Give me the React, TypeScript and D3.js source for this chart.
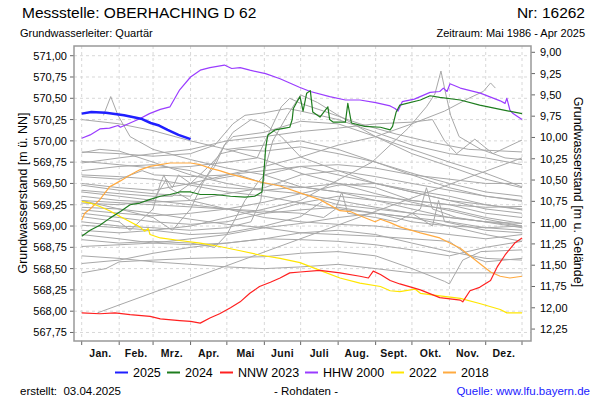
import React from 'react';
import * as d3 from 'd3';

type Pt = [number, number];

// day of year (0 = 1 Jan) / Grundwasserstand [m ü. NN]
const monthStarts = [0, 31, 59, 90, 120, 151, 181, 212, 243, 273, 304, 334, 364];
const monthLabels = ['Jan.', 'Feb.', 'Mrz.', 'Apr.', 'Mai', 'Juni', 'Juli', 'Aug.', 'Sept.', 'Okt.', 'Nov.', 'Dez.'];
const levelTicks = [567.75, 568, 568.25, 568.5, 568.75, 569, 569.25, 569.5, 569.75, 570, 570.25, 570.5, 570.75, 571];
const depthTicks = [9, 9.25, 9.5, 9.75, 10, 10.25, 10.5, 10.75, 11, 11.25, 11.5, 11.75, 12, 12.25];
const groundLevel = 580.04;

const y2025: Pt[] = [[0, 570.32], [8, 570.34], [20, 570.33], [35, 570.3], [49, 570.26], [57, 570.21], [64, 570.18], [71, 570.13], [80, 570.07], [90, 570.02]];

const y2024: Pt[] = [[0, 568.88], [7, 568.95], [15, 569.01], [23, 569.09], [32, 569.17], [40, 569.25], [48, 569.27], [56, 569.31], [65, 569.35], [73, 569.37], [81, 569.4], [90, 569.4], [98, 569.37], [110, 569.37], [123, 569.35], [135, 569.34], [143, 569.35], [149, 569.4], [151, 569.7], [152, 569.9], [153, 570.0], [154, 570.07], [160, 570.13], [168, 570.15], [172, 570.16], [174, 570.25], [175, 570.38], [178, 570.46], [180.5, 570.52], [183, 570.35], [186, 570.56], [189, 570.59], [191, 570.34], [197, 570.28], [203.5, 570.4], [205, 570.25], [208, 570.22], [218, 570.22], [220, 570.44], [223, 570.21], [234, 570.17], [247, 570.16], [255, 570.13], [257, 570.17], [260, 570.34], [263, 570.42], [280, 570.48], [288, 570.53], [296, 570.51], [313, 570.48], [329, 570.42], [346, 570.37], [364, 570.32]];

const nnw2023: Pt[] = [[0, 567.98], [15, 567.97], [27.5, 567.98], [40, 567.96], [56.5, 567.94], [65, 567.91], [81, 567.89], [90, 567.88], [98, 567.86], [106, 567.92], [114, 567.97], [123, 568.04], [131, 568.11], [139, 568.21], [147, 568.29], [156, 568.34], [164, 568.39], [172, 568.45], [180.5, 568.46], [197, 568.48], [213.5, 568.45], [230, 568.41], [237, 568.39], [241, 568.47], [247, 568.43], [255, 568.36], [263, 568.32], [280, 568.25], [296, 568.16], [313, 568.13], [315, 568.11], [321, 568.24], [329, 568.28], [338, 568.36], [343.5, 568.52], [350, 568.66], [358, 568.8], [364, 568.86]];

const hhw2000: Pt[] = [[0, 570.03], [7, 570.07], [15, 570.14], [23, 570.15], [30, 570.18], [32, 570.16], [40, 570.21], [48, 570.26], [56, 570.32], [65, 570.37], [73, 570.4], [77, 570.5], [81, 570.6], [90, 570.75], [98, 570.83], [106, 570.86], [118, 570.89], [124, 570.85], [131, 570.86], [139, 570.83], [152, 570.79], [164, 570.73], [172, 570.68], [180, 570.63], [189, 570.58], [205, 570.52], [218, 570.48], [230, 570.48], [243, 570.45], [255, 570.41], [259, 570.38], [261.5, 570.35], [265, 570.46], [275, 570.49], [288, 570.57], [296, 570.58], [299, 570.62], [302, 570.58], [304.5, 570.67], [313, 570.62], [329.5, 570.56], [346, 570.47], [350, 570.44], [351.5, 570.5], [354, 570.36], [356.6, 570.32], [364, 570.25]];

const y2022: Pt[] = [[0, 569.29], [7, 569.27], [15, 569.23], [23, 569.18], [32, 569.11], [40, 569.05], [48, 568.99], [52, 568.94], [55, 568.97], [56.5, 568.9], [65, 568.86], [81, 568.83], [98, 568.8], [114, 568.76], [131, 568.71], [147, 568.66], [164, 568.62], [180.5, 568.57], [197, 568.48], [213.5, 568.39], [230, 568.33], [247, 568.29], [255, 568.24], [263, 568.23], [275.5, 568.26], [280, 568.21], [296, 568.18], [313, 568.15], [329, 568.09], [346, 568.02], [351.5, 567.98], [364, 567.98]];

const y2018: Pt[] = [[0, 569.07], [2.5, 569.15], [7, 569.2], [15, 569.31], [23, 569.46], [32, 569.53], [40, 569.6], [48, 569.66], [56.5, 569.7], [65, 569.72], [73, 569.74], [81, 569.74], [90, 569.74], [98, 569.72], [106, 569.68], [114, 569.65], [123, 569.61], [131, 569.58], [147, 569.52], [164, 569.47], [180.5, 569.39], [197, 569.31], [213.5, 569.18], [222, 569.17], [230, 569.12], [242.5, 569.05], [247, 569.08], [255, 569.04], [263, 568.99], [280, 568.92], [296, 568.86], [313, 568.74], [329, 568.56], [338, 568.46], [346, 568.41], [354, 568.39], [364, 568.41]];

// all other years 1986 - 2025
const historic: Pt[][] = [
  [[0, 570.25], [31, 570.2], [59, 570.12], [90, 570.0], [120, 569.9], [151, 569.78], [181, 569.62], [212, 569.5], [243, 569.38], [273, 569.28], [304, 569.18], [334, 569.08], [364, 569.0]],
  [[18, 570.3], [24, 570.52], [30, 570.3], [40, 570.05], [59, 569.9], [90, 569.78], [120, 569.68], [151, 569.6], [181, 569.46], [212, 569.4], [243, 569.3], [273, 569.25], [304, 569.2], [334, 569.1], [364, 569.03]],
  [[0, 569.87], [31, 569.85], [59, 569.82], [90, 569.85], [110, 569.95], [125, 570.2], [135, 570.3], [151, 570.33], [170, 570.38], [181, 570.35], [212, 570.25], [243, 570.1], [273, 569.95], [304, 569.85], [334, 569.8], [364, 569.72]],
  [[0, 569.76], [31, 569.72], [59, 569.68], [90, 569.7], [120, 569.75], [145, 569.8], [155, 570.1], [165, 570.4], [172, 570.5], [181, 570.44], [200, 570.35], [230, 570.2], [260, 570.08], [290, 569.98], [320, 569.9], [364, 569.87]],
  [[0, 568.95], [31, 568.92], [59, 568.95], [90, 569.0], [120, 569.1], [151, 569.2], [181, 569.3], [200, 569.45], [220, 569.6], [240, 569.75], [255, 569.95], [270, 570.15], [285, 570.4], [292, 570.55], [297, 570.82], [301, 570.55], [305, 570.3], [312, 570.05], [330, 569.9], [350, 569.8], [364, 569.78]],
  [[0, 569.5], [31, 569.45], [59, 569.42], [90, 569.5], [120, 569.6], [151, 569.7], [181, 569.81], [212, 569.95], [243, 570.05], [273, 570.2], [300, 570.35], [320, 570.5], [332, 570.58], [338, 570.68], [342, 570.62]],
  [[0, 569.74], [31, 569.8], [59, 569.85], [90, 569.9], [120, 570.0], [151, 570.05], [181, 570.11], [212, 570.15], [243, 570.2], [273, 570.22], [290, 570.25], [300, 570.0], [310, 569.85], [325, 570.02], [340, 569.85], [364, 570.01]],
  [[0, 569.58], [31, 569.55], [50, 569.65], [60, 569.6], [90, 569.58], [120, 569.6], [151, 569.65], [181, 569.7], [212, 569.72], [243, 569.68], [273, 569.6], [304, 569.55], [334, 569.5], [364, 569.5]],
  [[0, 569.48], [31, 569.42], [59, 569.38], [90, 569.35], [110, 569.7], [118, 569.95], [125, 570.05], [151, 570.1], [181, 570.23], [212, 570.2], [243, 570.05], [273, 569.9], [304, 569.75], [334, 569.62], [364, 569.46]],
  [[0, 569.42], [31, 569.38], [59, 569.35], [75, 569.35], [90, 569.5], [105, 569.7], [115, 569.85], [130, 569.9], [151, 569.88], [181, 569.93], [212, 569.85], [243, 569.75], [273, 569.62], [304, 569.5], [334, 569.4], [364, 569.35]],
  [[0, 569.35], [31, 569.3], [59, 569.28], [90, 569.3], [120, 569.38], [151, 569.45], [181, 569.6], [212, 569.65], [243, 569.58], [273, 569.5], [304, 569.42], [334, 569.35], [364, 569.29]],
  [[0, 569.27], [31, 569.25], [59, 569.3], [70, 569.55], [75, 569.45], [80, 569.6], [90, 569.5], [120, 569.45], [151, 569.42], [181, 569.46], [212, 569.4], [243, 569.35], [273, 569.3], [304, 569.25], [334, 569.22], [364, 569.23]],
  [[0, 569.19], [31, 569.15], [59, 569.12], [90, 569.15], [120, 569.2], [151, 569.28], [181, 569.38], [212, 569.48], [243, 569.5], [273, 569.42], [304, 569.35], [334, 569.25], [364, 569.19]],
  [[0, 569.15], [31, 569.1], [59, 569.05], [90, 569.02], [120, 569.05], [151, 569.15], [181, 569.27], [212, 569.35], [243, 569.3], [273, 569.2], [304, 569.1], [334, 569.05], [364, 569.03]],
  [[0, 569.11], [31, 569.05], [40, 568.95], [59, 569.2], [65, 569.5], [68, 569.6], [72, 569.45], [90, 569.3], [120, 569.2], [151, 569.15], [181, 569.19], [212, 569.22], [243, 569.15], [273, 569.05], [304, 569.0], [334, 568.98], [364, 569.0]],
  [[0, 569.01], [31, 568.98], [59, 568.95], [90, 568.9], [120, 568.92], [151, 569.0], [181, 569.11], [200, 569.3], [212, 569.25], [243, 569.2], [273, 569.15], [290, 569.0], [295, 569.3], [300, 569.05], [334, 568.95], [364, 568.92]],
  [[0, 568.84], [31, 568.8], [59, 568.82], [90, 568.8], [110, 568.75], [120, 568.9], [135, 569.3], [145, 569.5], [151, 569.6], [165, 569.65], [181, 569.7], [212, 569.6], [243, 569.5], [273, 569.4], [304, 569.3], [334, 569.2], [364, 569.15]],
  [[0, 568.76], [31, 568.78], [59, 568.8], [90, 568.85], [120, 568.9], [151, 568.98], [181, 569.03], [212, 569.1], [243, 569.15], [273, 569.1], [304, 569.0], [334, 568.9], [364, 568.82]],
  [[0, 568.56], [31, 568.6], [59, 568.68], [90, 568.75], [120, 568.8], [151, 568.85], [181, 568.92], [212, 568.95], [243, 568.9], [273, 568.8], [304, 568.7], [334, 568.62], [364, 568.6]],
  [[0, 568.45], [20, 568.5], [31, 568.58], [59, 568.6], [90, 568.62], [120, 568.63], [151, 568.64], [181, 568.68], [212, 568.7], [243, 568.65], [273, 568.5], [300, 568.35], [304, 568.32], [315, 568.6], [330, 568.7], [364, 568.72]],
  [[0, 568.65], [31, 568.62], [59, 568.58], [90, 568.55], [120, 568.52], [151, 568.5], [181, 568.52], [212, 568.55], [243, 568.5], [273, 568.45], [304, 568.45], [334, 568.45], [364, 568.45]],
  [[13, 567.98], [364, 569.8]],
  [[0, 569.3], [31, 569.2], [59, 569.1], [75, 568.95], [90, 569.2], [100, 569.5], [110, 569.75], [118, 569.95], [125, 570.1], [140, 570.25], [151, 570.2], [165, 570.05], [181, 569.81], [212, 569.65], [243, 569.5], [273, 569.4], [304, 569.3], [334, 569.25], [364, 569.2]],
  [[0, 569.05], [31, 569.0], [59, 568.98], [90, 568.95], [120, 568.98], [140, 569.05], [148, 569.3], [152, 569.7], [158, 570.0], [170, 570.3], [181, 570.54], [195, 570.45], [212, 570.3], [243, 570.05], [273, 569.85], [304, 569.7], [334, 569.55], [364, 569.45]],
  [[0, 569.86], [15, 569.9], [31, 569.88], [59, 569.75], [90, 569.6], [120, 569.5], [151, 569.42], [181, 569.38], [212, 569.3], [243, 569.22], [273, 569.15], [304, 569.1], [334, 569.05], [364, 569.0]],
  [[0, 569.6], [31, 569.58], [59, 569.55], [90, 569.48], [120, 569.4], [151, 569.35], [181, 569.27], [212, 569.2], [243, 569.15], [273, 569.1], [304, 569.05], [334, 568.98], [364, 568.95]],
  [[0, 568.9], [31, 568.85], [59, 568.8], [90, 568.78], [120, 568.8], [151, 568.85], [181, 568.84], [212, 568.82], [243, 568.78], [273, 568.72], [304, 568.65], [334, 568.75], [364, 568.82]],
  [[0, 569.22], [31, 569.2], [59, 569.15], [90, 569.08], [120, 569.02], [151, 568.98], [181, 568.92], [212, 568.9], [243, 568.88], [273, 568.85], [304, 568.82], [320, 568.65], [334, 568.58], [364, 568.62]],
  [[0, 569.3], [59, 569.25], [120, 569.2], [181, 569.15], [200, 569.1], [210, 569.2], [215, 569.4], [220, 569.15], [243, 569.1], [260, 569.05], [280, 569.2], [285, 569.45], [290, 569.2], [310, 569.1], [364, 568.98]],
  [[0, 569.65], [31, 569.7], [59, 569.72], [90, 569.65], [110, 569.55], [130, 569.6], [151, 569.5], [181, 569.45], [212, 569.5], [243, 569.45], [273, 569.3], [304, 569.25], [334, 569.15], [364, 569.1]],
  [[120, 569.9], [151, 569.95], [181, 570.0], [212, 569.9], [243, 569.75], [273, 569.6], [304, 569.45], [334, 569.35], [364, 569.3]],
  [[0, 569.4], [31, 569.35], [59, 569.3], [90, 569.25], [120, 569.2], [151, 569.1], [181, 569.05], [212, 569.02], [243, 569.0], [273, 568.95], [304, 568.9], [334, 568.85], [364, 568.9]],
];

const series = [
  { name: '2025', color: '#1f1fff', width: 2.5, data: y2025 },
  { name: '2024', color: '#1e7d1e', width: 1.2, data: y2024 },
  { name: 'NNW 2023', color: '#ff2020', width: 1.2, data: nnw2023 },
  { name: 'HHW 2000', color: '#9a3cff', width: 1.2, data: hhw2000 },
  { name: '2022', color: '#ffe600', width: 1.2, data: y2022 },
  { name: '2018', color: '#ffaa40', width: 1.2, data: y2018 },
];
const legendX = [115, 167, 220, 305, 391, 443];

const font = '"Liberation Sans", Arial, sans-serif';

export default function App() {
  const left = 74, right = 531, top = 46, bottom = 341;
  const x = d3.scaleLinear().domain([0, 364]).range([81.7, 522]);
  const y = d3.scaleLinear().domain([567.65, 571.114]).range([bottom, top]);
  const line = d3.line<Pt>().x(d => x(d[0])).y(d => y(d[1]));
  const fmt = d3.formatLocale({ decimal: ',', thousands: '.', grouping: [3], currency: ['', ''] }).format('.2f');
  const drawOrder = [...series].reverse();

  return (
    <div style={{ position: 'fixed', left: 0, top: 0 }}>
      <svg width={600} height={400} style={{ display: 'block', background: '#fff', fontFamily: font }}>
        <defs>
          <clipPath id="plot"><rect x={left} y={top} width={right - left} height={bottom - top} /></clipPath>
        </defs>
        <text x={22} y={18} fontSize={15.5} fill="#000">Messstelle: OBERHACHING D 62</text>
        <text x={585} y={18} fontSize={15.5} textAnchor="end" fill="#000">Nr: 16262</text>
        <text x={20} y={37} fontSize={11} fill="#000">Grundwasserleiter: Quartär</text>
        <text x={585} y={37} fontSize={11} textAnchor="end" fill="#000">Zeitraum: Mai 1986 - Apr 2025</text>

        {levelTicks.map(v => (
          <g key={'h' + v}>
            <line x1={left} x2={right} y1={y(v)} y2={y(v)} stroke="#d8d8d8" strokeDasharray="3,3" />
            <line x1={left - 4} x2={left} y1={y(v)} y2={y(v)} stroke="#666" />
            <text x={67} y={y(v) + 4} fontSize={11} textAnchor="end">{fmt(v)}</text>
          </g>
        ))}
        {monthStarts.map(d => (
          <g key={'v' + d}>
            <line x1={x(d)} x2={x(d)} y1={top} y2={bottom} stroke="#d8d8d8" strokeDasharray="3,3" />
            <line x1={x(d)} x2={x(d)} y1={bottom} y2={bottom + 4} stroke="#666" />
          </g>
        ))}
        {depthTicks.map(d => (
          <g key={'r' + d}>
            <line x1={right} x2={right + 4} y1={y(groundLevel - d)} y2={y(groundLevel - d)} stroke="#666" />
            <text x={540} y={y(groundLevel - d) + 4} fontSize={11}>{fmt(d)}</text>
          </g>
        ))}
        {monthLabels.map((m, i) => (
          <text key={m} x={x((monthStarts[i] + monthStarts[i + 1]) / 2)} y={357} fontSize={10.5} fontWeight="bold" letterSpacing={0.3} textAnchor="middle" fill="#111">{m}</text>
        ))}

        <g clipPath="url(#plot)" fill="none">
          {historic.map((h, i) => (
            <path key={'g' + i} d={line(h) || ''} stroke="#a8a8a8" strokeWidth={1} />
          ))}
          {drawOrder.map(s => (
            <path key={s.name} d={line(s.data) || ''} stroke={s.color} strokeWidth={s.width} strokeLinejoin="round" />
          ))}
        </g>
        <rect x={left} y={top} width={right - left} height={bottom - top} fill="none" stroke="#999" strokeWidth={1.5} />

        <text transform={`translate(27,193) rotate(-90)`} fontSize={12.5} textAnchor="middle">Grundwasserstand [m ü. NN]</text>
        <text transform={`translate(574,192) rotate(90)`} fontSize={12.5} textAnchor="middle">Grundwasserstand [m u. Gelände]</text>

        {series.map((s, i) => (
          <g key={'l' + s.name}>
            <line x1={legendX[i]} x2={legendX[i] + 13} y1={372.5} y2={372.5} stroke={s.color} strokeWidth={2} />
            <text x={legendX[i] + 18} y={377} fontSize={12.5}>{s.name}</text>
          </g>
        ))}

        <text x={20} y={395} fontSize={11.5}>{'erstellt:\u00a0 03.04.2025'}</text>
        <text x={306} y={395} fontSize={11.5} textAnchor="middle">- Rohdaten -</text>
        <text x={590} y={395} fontSize={11.5} textAnchor="end" fill="#1a1aff">Quelle: www.lfu.bayern.de</text>
      </svg>
    </div>
  );
}
